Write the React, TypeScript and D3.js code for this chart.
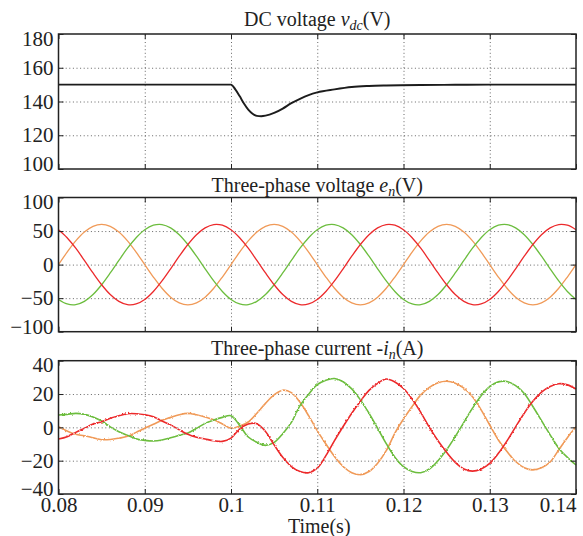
import { useEffect, useRef } from 'react';
import * as d3 from 'd3';

// sampling instants (ms) of the phase traces
const sampleMs = [
  80, 81, 82, 83, 84, 85, 86, 87, 88, 89, 90, 91, 92, 93, 94, 95, 96, 97, 98, 99,
  100, 101, 102, 103, 104, 105, 106, 107, 108, 109, 110, 111, 112, 113, 114, 115, 116, 117, 118, 119,
  120, 121, 122, 123, 124, 125, 126, 127, 128, 129, 130, 131, 132, 133, 134, 135, 136, 137, 138, 139,
  140,
];

// DC link voltage (s, V)
const dcTimes = [
  0.08, 0.1, 0.1005, 0.101, 0.1015, 0.102, 0.1025, 0.103, 0.1035, 0.104, 0.105, 0.106, 0.107,
  0.108, 0.109, 0.11, 0.112, 0.114, 0.116, 0.118, 0.122, 0.126, 0.13, 0.135, 0.14,
];
const dcVoltage = [
  150, 150, 147.2, 143.2, 138.8, 135.2, 132.8, 131.5, 131.3, 131.6, 133.2, 135.8, 139,
  141.6, 143.8, 145.4, 147.2, 148.6, 149.2, 149.5, 149.8, 149.9, 150, 150, 150,
];

// three-phase voltage (V)
const voltageOrange = [
  0, 18.5, 35.3, 48.5, 57.1, 60, 57.1, 48.5, 35.3, 18.5, 0, -18.5, -35.3, -48.5, -57.1, -60, -57.1, -48.5, -35.3, -18.5,
  0, 18.5, 35.3, 48.5, 57.1, 60, 57.1, 48.5, 35.3, 18.5, 0, -18.5, -35.3, -48.5, -57.1, -60, -57.1, -48.5, -35.3, -18.5,
  0, 18.5, 35.3, 48.5, 57.1, 60, 57.1, 48.5, 35.3, 18.5, 0, -18.5, -35.3, -48.5, -57.1, -60, -57.1, -48.5, -35.3, -18.5,
  0,
];
const voltageGreen = [
  -52, -58.7, -59.7, -54.8, -44.6, -30, -12.5, 6.3, 24.4, 40.1, 52, 58.7, 59.7, 54.8, 44.6, 30, 12.5, -6.3, -24.4, -40.1,
  -52, -58.7, -59.7, -54.8, -44.6, -30, -12.5, 6.3, 24.4, 40.1, 52, 58.7, 59.7, 54.8, 44.6, 30, 12.5, -6.3, -24.4, -40.1,
  -52, -58.7, -59.7, -54.8, -44.6, -30, -12.5, 6.3, 24.4, 40.1, 52, 58.7, 59.7, 54.8, 44.6, 30, 12.5, -6.3, -24.4, -40.1,
  -52,
];
const voltageRed = [
  52, 40.1, 24.4, 6.3, -12.5, -30, -44.6, -54.8, -59.7, -58.7, -52, -40.1, -24.4, -6.3, 12.5, 30, 44.6, 54.8, 59.7, 58.7,
  52, 40.1, 24.4, 6.3, -12.5, -30, -44.6, -54.8, -59.7, -58.7, -52, -40.1, -24.4, -6.3, 12.5, 30, 44.6, 54.8, 59.7, 58.7,
  52, 40.1, 24.4, 6.3, -12.5, -30, -44.6, -54.8, -59.7, -58.7, -52, -40.1, -24.4, -6.3, 12.5, 30, 44.6, 54.8, 59.7, 58.7,
  52,
];

// three-phase current (A)
const currentOrange = [
  0.4, -2.2, -4.2, -5, -6.2, -7.4, -7.3, -6.5, -5.4, -3, -0.5, 1.8, 4.2, 6, 7.6, 8.4, 7.6, 6.2, 4.5, 2,
  -0.5, 0.8, 3.2, 8.5, 14.4, 19.5, 22.3, 20.8, 15, 7, -2, -10, -17.5, -23.5, -27.2, -28.4, -26.5, -21.5, -14, -3.5,
  5, 12.5, 19.5, 24, 26.8, 27.7, 26.5, 23.5, 18.4, 10.5, 1.4, -7.6, -14.5, -20.5, -24.2, -25.5, -24.3, -20.8, -13.5, -6.2,
  0.3,
];
const currentGreen = [
  7.4, 7.8, 8.4, 7.8, 6.2, 3.8, 0.3, -2.6, -4.8, -6.8, -7.8, -8.2, -7.6, -6.3, -4.8, -3.4, -0.6, 2.4, 4.4, 6,
  7, 1.2, -5.8, -9, -10.8, -9, -3.8, 3, 13, 19.9, 25.6, 28.3, 29.3, 27.4, 23.1, 16.5, 8.5, -0.6, -9.8, -17.9,
  -23.6, -26.5, -27.2, -25, -20, -13.5, -5.5, 3, 11.5, 19, 24.4, 27.3, 27.5, 25, 20.3, 12.5, 4, -4.5, -12.5, -18,
  -22.6,
];
const currentRed = [
  -7, -5.6, -3, -0.6, 2, 3.4, 5.5, 7, 8.2, 8.2, 7.6, 6.4, 3.8, 1.5, -1.5, -4.2, -6, -7, -8, -8.4,
  -6.5, -1, 2, 2.2, -2.5, -10.5, -18, -23.5, -26.5, -27.2, -24.5, -17, -8, 0.5, 8.5, 15.7, 22.2, 26.4, 29, 27.2,
  23.3, 17, 9, 0, -8, -15, -21, -25, -26.3, -25, -21.6, -15.6, -8.1, 0.3, 8.5, 15.6, 21.1, 24.5, 26.2, 25.5,
  23,
];

const timeTicks = [0.08, 0.09, 0.1, 0.11, 0.12, 0.13, 0.14];
const dcTicks = [100, 120, 140, 160, 180];
const voltageTicks = [-100, -50, 0, 50, 100];
const currentTicks = [-40, -20, 0, 20, 40];

const FONT = "'Liberation Serif', 'Times New Roman', Times, serif";
const RED = '#ec2a2c';
const ORANGE = '#f09a58';
const GREEN = '#6cbd3e';

const App = () => {
  const svgRef = useRef<SVGSVGElement | null>(null);
  const width = 583;
  const height = 536;

  useEffect(() => {
    const svg = d3.select(svgRef.current);
    svg.selectAll('*').remove();

    // slight measurement jitter look on the sampled current traces
    const filter = svg.append('defs').append('filter')
      .attr('id', 'jitter')
      .attr('x', '-5%').attr('y', '-5%').attr('width', '110%').attr('height', '110%');
    filter.append('feTurbulence')
      .attr('type', 'fractalNoise')
      .attr('baseFrequency', '0.6 0.6')
      .attr('numOctaves', 1)
      .attr('seed', 3)
      .attr('result', 'noise');
    filter.append('feDisplacementMap')
      .attr('in', 'SourceGraphic')
      .attr('in2', 'noise')
      .attr('scale', 2.6)
      .attr('xChannelSelector', 'R')
      .attr('yChannelSelector', 'G');

    const plotLeft = 58.5;
    const plotRight = 576;
    const xScale = d3.scaleLinear().domain([0.08, 0.14]).range([plotLeft, plotRight]);

    const phase = (values: number[]) => sampleMs.map((ms, i) => [ms / 1000, values[i]] as [number, number]);

    const panels = [
      {
        top: 34, bottom: 169, domain: [100, 180], ticks: dcTicks,
        title: ['DC voltage ', 'v', 'dc', '(V)'],
        jitter: false,
        series: [{ points: dcTimes.map((t, i) => [t, dcVoltage[i]] as [number, number]), color: '#1c1c1c', w: 1.9 }],
      },
      {
        top: 197.5, bottom: 331.7, domain: [-100, 100], ticks: voltageTicks,
        title: ['Three-phase voltage ', 'e', 'n', '(V)'],
        jitter: false,
        series: [
          { points: phase(voltageOrange), color: ORANGE, w: 1.3 },
          { points: phase(voltageGreen), color: GREEN, w: 1.3 },
          { points: phase(voltageRed), color: RED, w: 1.3 },
        ],
      },
      {
        top: 360.7, bottom: 494, domain: [-40, 40], ticks: currentTicks,
        title: ['Three-phase current -', 'i', 'n', '(A)'],
        jitter: true,
        series: [
          { points: phase(currentOrange), color: ORANGE, w: 1.6 },
          { points: phase(currentGreen), color: GREEN, w: 1.6 },
          { points: phase(currentRed), color: RED, w: 1.6 },
        ],
      },
    ];

    panels.forEach((p, idx) => {
      const yScale = d3.scaleLinear().domain(p.domain).range([p.bottom, p.top]);
      const h = p.bottom - p.top;
      const g = svg.append('g');
      const isLast = idx === panels.length - 1;

      // Grid
      g.append('g')
        .attr('transform', `translate(0,${p.bottom})`)
        .call(d3.axisBottom(xScale).tickValues(timeTicks.slice(1, -1)).tickSize(-h).tickFormat(() => ''))
        .call(a => a.select('.domain').remove())
        .selectAll('line')
        .attr('stroke', '#555')
        .attr('stroke-width', 0.9)
        .attr('stroke-dasharray', '1,2.6');
      g.append('g')
        .attr('transform', `translate(${plotLeft},0)`)
        .call(d3.axisLeft(yScale).tickValues(p.ticks.slice(1, -1)).tickSize(-(plotRight - plotLeft)).tickFormat(() => ''))
        .call(a => a.select('.domain').remove())
        .selectAll('line')
        .attr('stroke', '#555')
        .attr('stroke-width', 0.9)
        .attr('stroke-dasharray', '1,2.6');

      // Traces
      const line = d3
        .line<[number, number]>()
        .x(d => xScale(d[0]))
        .y(d => yScale(d[1]))
        .curve(idx === 0 ? d3.curveMonotoneX : d3.curveCatmullRom.alpha(0.5));

      const traces = g.append('g').attr('filter', p.jitter ? 'url(#jitter)' : null);
      p.series.forEach(s => {
        traces.append('path')
          .attr('d', line(s.points))
          .attr('fill', 'none')
          .attr('stroke', s.color)
          .attr('stroke-width', s.w)
          .attr('stroke-linejoin', 'round');
      });

      // Frame
      g.append('rect')
        .attr('x', plotLeft)
        .attr('y', p.top)
        .attr('width', plotRight - plotLeft)
        .attr('height', h)
        .attr('fill', 'none')
        .attr('stroke', '#222')
        .attr('stroke-width', 1.5);

      // Y axis (left, labelled)
      const yAxis = g.append('g')
        .attr('transform', `translate(${plotLeft},0)`)
        .call(d3.axisLeft(yScale).tickValues(p.ticks).tickSize(-5).tickSizeOuter(0).tickPadding(5));
      yAxis.attr('font-family', FONT).attr('font-size', 21);
      yAxis.select('.domain').remove();
      yAxis.selectAll('line').attr('stroke', '#222');
      yAxis.selectAll('text')
        .attr('font-family', FONT)
        .style('font-size', '21px')
        .attr('fill', '#222')
        .attr('transform', (d: any) => (d === p.ticks[p.ticks.length - 1] ? 'translate(0,4.5)' : d === p.ticks[0] ? 'translate(0,-5)' : null));

      // right / top ticks
      const rAxis = g.append('g')
        .attr('transform', `translate(${plotRight},0)`)
        .call(d3.axisRight(yScale).tickValues(p.ticks).tickSize(-5).tickSizeOuter(0).tickFormat(() => ''));
      rAxis.select('.domain').remove();
      rAxis.selectAll('line').attr('stroke', '#222');
      const tAxis = g.append('g')
        .attr('transform', `translate(0,${p.top})`)
        .call(d3.axisTop(xScale).tickValues(timeTicks).tickSize(-5).tickSizeOuter(0).tickFormat(() => ''));
      tAxis.select('.domain').remove();
      tAxis.selectAll('line').attr('stroke', '#222');

      // bottom ticks (labels only on the last panel)
      const bAxis = g.append('g')
        .attr('transform', `translate(0,${p.bottom})`)
        .call(
          d3.axisBottom(xScale)
            .tickValues(timeTicks)
            .tickSize(-5)
            .tickSizeOuter(0)
            .tickPadding(3)
            .tickFormat(d => (isLast ? d3.format('')(+d) : ''))
        );
      bAxis.attr('font-family', FONT).attr('font-size', 21);
      bAxis.select('.domain').remove();
      bAxis.selectAll('line').attr('stroke', '#222');
      bAxis.selectAll('text')
        .attr('font-family', FONT)
        .style('font-size', '21px')
        .attr('fill', '#222')
        .attr('text-anchor', (d: any) => (d === timeTicks[timeTicks.length - 1] ? 'end' : 'middle'));

      // Title
      const title = g.append('text')
        .attr('x', (plotLeft + plotRight) / 2)
        .attr('y', p.top - (idx === 0 ? 8 : 6))
        .attr('text-anchor', 'middle')
        .attr('font-family', FONT)
        .style('font-size', '20px')
        .attr('fill', '#222');
      title.append('tspan').text(p.title[0]);
      title.append('tspan').attr('font-style', 'italic').text(p.title[1]);
      title.append('tspan').attr('font-style', 'italic').attr('font-size', '14px').attr('dy', 4).text(p.title[2]);
      title.append('tspan').attr('dy', -4).text(p.title[3]);
    });

    // X label
    svg.append('text')
      .attr('x', (plotLeft + plotRight) / 2 + 2)
      .attr('y', 533)
      .attr('text-anchor', 'middle')
      .attr('font-family', FONT)
      .style('font-size', '20px')
      .attr('fill', '#222')
      .text('Time(s)');
  }, []);

  return (
    <svg
      ref={svgRef}
      width={width}
      height={height}
      style={{ position: 'absolute', left: 0, top: 0, background: '#fff' }}
    />
  );
};

export default App;
